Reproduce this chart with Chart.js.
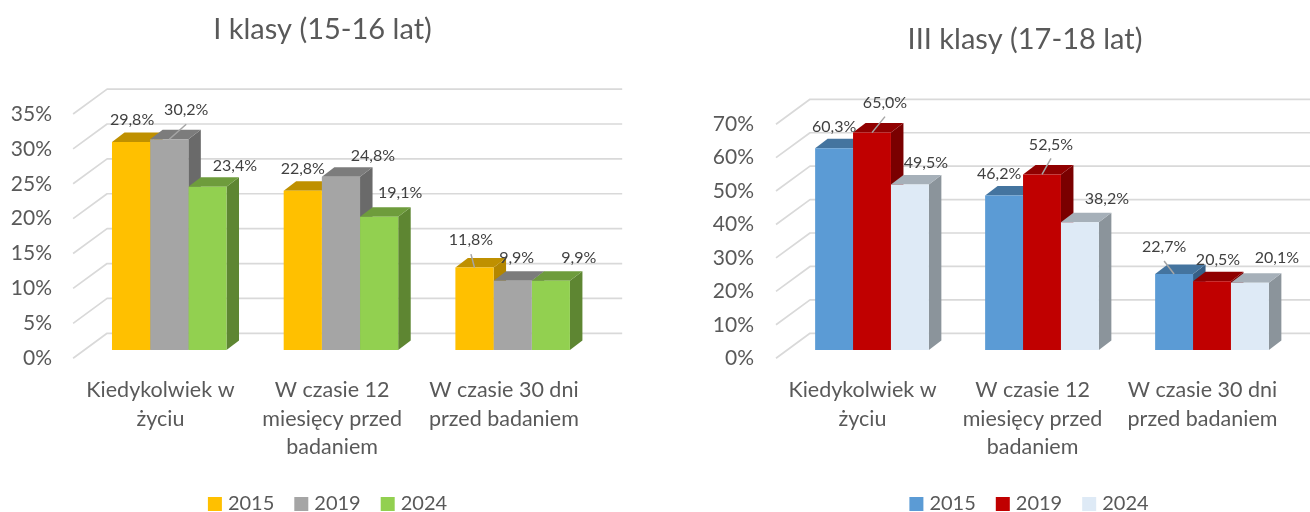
<!DOCTYPE html>
<html lang="pl">
<head>
<meta charset="utf-8">
<title>Klasy</title>
<script src="https://cdn.jsdelivr.net/npm/chart.js@4"></script>
<style>
html,body{margin:0;padding:0;background:#fff;width:1310px;height:512px;overflow:hidden}
canvas{position:absolute;top:0}
#c1{left:0}
#c2{left:700px}
</style>
</head>
<body>
<canvas id="c1" width="655" height="512"></canvas>
<canvas id="c2" width="610" height="512"></canvas>
<script>
const categories = [['Kiedykolwiek w','życiu'],['W czasie 12','miesięcy przed','badaniem'],['W czasie 30 dni','przed badaniem']];
const years = ['2015','2019','2024'];

const firstClass2015 = [29.8,22.8,11.8];
const firstClass2019 = [30.2,24.8,9.9];
const firstClass2024 = [23.4,19.1,9.9];

const thirdClass2015 = [60.3,46.2,22.7];
const thirdClass2019 = [65.0,52.5,20.5];
const thirdClass2024 = [49.5,38.2,20.1];

const TEXT = '#595959', LABEL = '#404040', GRID = '#d9d9d9', LEADER = '#a6a6a6';
const FONT = 'Lato';

// colours: front, top, side
const firstPalette = [['#ffc000','#bf9000','#b38600'],['#a5a5a5','#7c7c7c','#6a6a6a'],['#92d050','#6e9c3c','#5e8632']];
const thirdPalette = [['#5b9bd5','#44749f','#365f86'],['#c00000','#900000','#7a0000'],['#deeaf6','#a6b0b9','#8b949b']];

// data-label offsets from the front-top centre of each bar, [series][category]
const firstOffsets = [[[1,-22],[0,-22],[-3.5,-27.5]],[[17,-29],[32,-21],[4,-23]],[[27.5,-21],[21,-24],[28,-23]]];
const thirdOffsets = [[[0,-21],[-5,-22],[-10,-27]],[[13,-30],[9,-30],[6,-22]],[[16,-22],[27,-23],[27,-25]]];
// which labels get a leader line, [series, category]
const firstLeaders = [[1,0],[0,2]];
const thirdLeaders = [[1,0],[1,1],[0,2]];

function fmt(v){ return v.toFixed(1).replace('.',',') + '%'; }

const depth3d = {
  id:'depth3d',
  afterLayout(chart,a,o){
    const t = chart.titleBlock, l = chart.legend;
    t.left += o.titleShift; t.right += o.titleShift;
    l.left += o.legendShift; l.right += o.legendShift;
    l.top = o.legendTop; l.bottom = l.top + l.height;
  },
  beforeDatasetsDraw(chart,a,o){
    const ctx = chart.ctx, y = chart.scales.y, area = chart.chartArea;
    ctx.save();
    ctx.strokeStyle = GRID; ctx.lineWidth = 1.7; ctx.lineJoin = 'round';
    y.ticks.forEach(t=>{
      const p = y.getPixelForValue(t.value);
      ctx.beginPath();
      ctx.moveTo(area.left-1.5,p);
      ctx.lineTo(area.left+32.5,p-24.9);
      ctx.lineTo(area.right+32.5,p-24.9);
      ctx.stroke();
    });
    ctx.translate(o.dx,o.dy);
    const n = chart.data.labels.length;
    for(let c=0;c<n;c++){
      chart.data.datasets.forEach((ds,s)=>{
        const b = chart.getDatasetMeta(s).data[c];
        const L = b.x-b.width/2, R = b.x+b.width/2, T = b.y, B = b.base;
        ctx.fillStyle = o.palette[s][2];
        ctx.beginPath();
        ctx.moveTo(R,T); ctx.lineTo(R+12.5,T-9.5); ctx.lineTo(R+12.5,B-9.5); ctx.lineTo(R,B); ctx.closePath(); ctx.fill();
        ctx.fillStyle = o.palette[s][1];
        ctx.beginPath();
        ctx.moveTo(L,T); ctx.lineTo(L+12.5,T-9.5); ctx.lineTo(R+12.5,T-9.5); ctx.lineTo(R,T); ctx.closePath(); ctx.fill();
      });
    }
    ctx.restore();
    ctx.save();
    ctx.translate(o.dx,o.dy);
  },
  afterDatasetsDraw(chart,a,o){
    const ctx = chart.ctx;
    ctx.restore();
    ctx.save();
    ctx.translate(o.dx,o.dy);
    ctx.strokeStyle = LEADER; ctx.lineWidth = 1.5;
    o.leaders.forEach(([s,c])=>{
      const b = chart.getDatasetMeta(s).data[c], off = o.offsets[s][c];
      ctx.beginPath();
      ctx.moveTo(b.x+off[0],b.y+off[1]+14);
      ctx.lineTo(b.x,b.y);
      ctx.stroke();
    });
    ctx.fillStyle = LABEL;
    ctx.font = '16px '+FONT;
    ctx.textAlign = 'center'; ctx.textBaseline = 'middle';
    chart.data.datasets.forEach((ds,s)=>{
      ds.data.forEach((v,c)=>{
        const b = chart.getDatasetMeta(s).data[c], off = o.offsets[s][c];
        ctx.fillText(fmt(v),b.x+off[0],b.y+off[1]);
      });
    });
    ctx.restore();
  }
};

function makeChart(id,opt){
  return new Chart(document.getElementById(id),{
    type:'bar',
    data:{
      labels:categories,
      datasets:opt.series.map((vals,i)=>({
        label:years[i], data:vals, backgroundColor:opt.palette[i][0], borderWidth:0,
        categoryPercentage:opt.catPct, barPercentage:1, clip:false
      }))
    },
    plugins:[depth3d],
    options:{
      responsive:false, animation:false, maintainAspectRatio:false,
      layout:{padding:{left:0,right:opt.padRight,top:0,bottom:-30}},
      scales:{
        x:{
          grid:{display:false,drawTicks:false}, border:{display:false},
          ticks:{color:TEXT,font:{family:FONT,size:21.5,lineHeight:1.326},padding:18,autoSkip:false,maxRotation:0,minRotation:0},
          afterFit(s){ s.height = 129.8; }
        },
        y:{
          min:0,max:opt.max,
          grid:{display:false,drawTicks:false}, border:{display:false},
          ticks:{stepSize:opt.step,color:TEXT,font:{family:FONT,size:21},padding:opt.tickPad,callback:v=>v+'%'},
          afterFit(s){ s.width = opt.axisW; }
        }
      },
      plugins:{
        title:{display:true,text:opt.title,color:TEXT,font:{family:FONT,size:29,weight:'normal',lineHeight:1.2},padding:{top:opt.titleTop,bottom:opt.titleBottom}},
        legend:{
          display:true,position:'bottom',
          labels:{
            boxWidth:6,boxHeight:6,padding:24,color:TEXT,font:{family:FONT,size:20},
            generateLabels:c=>c.data.datasets.map((d,i)=>({text:d.label,fillStyle:opt.palette[i][0],strokeStyle:opt.palette[i][0],lineWidth:8,datasetIndex:i,fontColor:TEXT}))
          }
        },
        tooltip:{enabled:false},
        depth3d:{palette:opt.palette,offsets:opt.offsets,leaders:opt.leaders,dx:opt.dx,dy:-8.3,titleShift:opt.titleShift,legendShift:opt.legendShift,legendTop:470}
      }
    }
  });
}

makeChart('c1',{
  series:[firstClass2015,firstClass2019,firstClass2024],palette:firstPalette,offsets:firstOffsets,leaders:firstLeaders,
  title:'I klasy (15-16 lat)',max:35,step:5,catPct:0.667,padRight:65.3,axisW:74.6,tickPad:22.6,
  titleTop:12.6,titleBottom:66.6,titleShift:27.65,legendShift:34.65,dx:8.8
});
makeChart('c2',{
  series:[thirdClass2015,thirdClass2019,thirdClass2024],palette:thirdPalette,offsets:thirdOffsets,leaders:thirdLeaders,
  title:'III klasy (17-18 lat)',max:70,step:10,catPct:0.669,padRight:22.5,axisW:77.5,tickPad:23.5,
  titleTop:22.6,titleBottom:66.8,titleShift:31.25,legendShift:37.25,dx:9.5
});
</script>
</body>
</html>
